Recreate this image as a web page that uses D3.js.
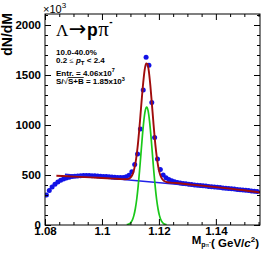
<!DOCTYPE html>
<meta charset="utf-8">
<script src="https://cdn.jsdelivr.net/npm/d3@7"></script>
<style>
  body { margin: 0; background: #fff; }
  svg { display: block; font-family: "Liberation Sans", Arial, sans-serif; }
</style>
<body>
<svg width="274" height="264"></svg>
</body>
<script>

    // histogram: bins of 1 MeV starting at 1.080 GeV/c2, counts in units of 10^3
    var binLow = 1.080, binWidth = 0.001;
    var counts = [300, 345, 380, 408, 430, 447, 460, 470, 478, 484,
                  488, 491, 493, 494, 494, 494, 493, 492, 490, 488,
                  486, 484, 482, 480, 478, 476, 475, 476, 482, 497,
                  533, 605, 710, 960, 1350, 1677, 1597, 1225, 875, 660,
                  555, 500, 472, 455, 442, 432, 425, 420, 416, 412,
                  407, 404, 401, 398, 395, 392, 389, 386, 383, 380,
                  377, 374, 371, 368, 365, 362, 359, 356, 353, 350,
                  347, 344, 341, 338, 335];

    // total fit (red)
    var fitMass = [1.084, 1.088, 1.092, 1.096, 1.100, 1.104, 1.107, 1.108, 1.109, 1.1095,
                   1.110, 1.1105, 1.111, 1.1115, 1.112, 1.1125, 1.113, 1.1135, 1.114, 1.1145,
                   1.115, 1.1155, 1.116, 1.1165, 1.117, 1.1175, 1.118, 1.1185, 1.119, 1.1195,
                   1.120, 1.1205, 1.121, 1.1215, 1.122, 1.1225, 1.123, 1.124, 1.126, 1.130,
                   1.135, 1.140, 1.145, 1.150, 1.1555];
    var fitTotal = [492, 487, 481, 476, 470, 464, 459, 458, 459, 463,
                    474, 492, 526, 581, 662, 775, 922, 1091, 1266, 1427,
                    1552, 1616, 1608, 1530, 1393, 1224, 1048, 878, 738, 629,
                    549, 498, 466, 448, 437, 431, 428, 424, 420, 408,
                    394, 379, 364, 347, 325];

    // signal peak (green)
    var sigMass = [1.1087, 1.1092, 1.1097, 1.1102, 1.1107, 1.1112, 1.1117, 1.1122, 1.1127, 1.1132,
                   1.1137, 1.1142, 1.1147, 1.1152, 1.1157, 1.1162, 1.1167, 1.1172, 1.1177, 1.1182,
                   1.1187, 1.1192, 1.1197, 1.1202, 1.1207, 1.1212, 1.1217, 1.1222, 1.1227];
    var sigVals = [3, 6, 13, 27, 52, 94, 160, 255, 383, 540,
                   716, 891, 1041, 1144, 1180, 1144, 1041, 891, 716, 540,
                   383, 255, 160, 94, 52, 27, 13, 6, 3];

    // residual background (blue)
    var bgMass = [1.087, 1.1555];
    var bgVals = [508, 333];

    var yMajor = [0, 500, 1000, 1500, 2000];
    var xMajor = [1.08, 1.10, 1.12, 1.14];

    var svg = d3.select('svg');
    var padL = 45, padR = 260, padT = 14, padB = 225;

    var x = d3.scaleLinear().domain([1.080, 1.1555]).range([padL, padR]);
    var y = d3.scaleLinear().domain([0, 2110]).range([padB, padT]);

    svg.append('clipPath').attr('id', 'frame')
        .append('rect').attr('x', padL).attr('y', padT)
        .attr('width', padR - padL).attr('height', padB - padT);

    var plot = svg.append('g').attr('clip-path', 'url(#frame)');

    //数据点
    plot.selectAll('circle')
        .data(counts)
        .enter()
        .append('circle')
        .attr('cx', function (d, i) { return x(binLow + (i + 0.5) * binWidth); })
        .attr('cy', function (d) { return y(d); })
        .attr('r', 2.5)
        .style('fill', '#1212e6');

    var line = d3.line()
        .x(function (d) { return x(d[0]); })
        .y(function (d) { return y(d[1]); })
        .curve(d3.curveMonotoneX);

    function pairs(a, b) { return a.map(function (v, i) { return [v, b[i]]; }); }

    plot.append('path').attr('d', line(pairs(bgMass, bgVals)))
        .attr('fill', 'none').attr('stroke', '#2020e8').attr('stroke-width', 1.4);
    plot.append('path').attr('d', line(pairs(sigMass, sigVals)))
        .attr('fill', 'none').attr('stroke', '#19c819').attr('stroke-width', 1.7);
    plot.append('path').attr('d', line(pairs(fitMass, fitTotal)))
        .attr('fill', 'none').attr('stroke', '#a00c0c').attr('stroke-width', 1.9);

    svg.append('rect').attr('x', padL).attr('y', padT)
        .attr('width', padR - padL).attr('height', padB - padT)
        .attr('fill', 'none').attr('stroke', '#000').attr('stroke-width', 1);

    //标题
    svg.append('text')
        .attr('transform', 'translate(11.5,13) rotate(-90)')
        .attr('text-anchor', 'end')
        .style('font-size', '14px').style('font-weight', 'bold')
        .text('dN/dM');

    var expo = svg.append('text').attr('x', 43).attr('y', 12.5).style('font-size', '11px');
    expo.append('tspan').text('\u00d710');
    expo.append('tspan').attr('dy', -5).style('font-size', '8px').text('3');

    var xt = svg.append('text').attr('x', 259).attr('y', 244)
        .attr('text-anchor', 'end').style('font-size', '11.5px').style('font-weight', 'bold');
    xt.append('tspan').text('M');
    xt.append('tspan').attr('dy', 3).style('font-size', '7px').text('p');
    xt.append('tspan').style('font-size', '7px').style('font-family', '"Liberation Serif", serif').style('font-weight', 'normal').text('\u03c0');
    xt.append('tspan').attr('dy', -3).style('font-size', '6px').text('-');
    xt.append('tspan').attr('dy', 3).text('( GeV/');
    xt.append('tspan').style('font-style', 'italic').text('c');
    xt.append('tspan').attr('dy', -5).style('font-size', '8px').text('2');
    xt.append('tspan').attr('dy', 5).text(')');

    //文字
    var serif = '"Liberation Serif", "DejaVu Serif", serif';
    var t1 = svg.append('text').attr('x', 56).attr('y', 35.5).style('font-size', '17px');
    t1.append('tspan').style('font-family', serif).text('\u039b');
    t1.append('tspan').attr('dx', 0.5).style('font-family', '"DejaVu Sans", sans-serif').style('font-size', '21px').text('\u2192');
    t1.append('tspan').attr('dx', 0.5).style('font-weight', 'bold').style('font-size', '17.5px').text('p');
    t1.append('tspan').attr('dx', 0.5).style('font-family', serif).style('font-size', '21px').text('\u03c0');
    t1.append('tspan').attr('dy', -11).attr('dx', 0.5).style('font-size', '10px').style('font-weight', 'bold').text('-');

    var small = svg.append('g').style('font-size', '8px').style('font-weight', 'bold');
    small.append('text').attr('x', 56).attr('y', 55).text('10.0-40.0%');

    var t3 = small.append('text').attr('x', 56).attr('y', 62.5);
    t3.append('tspan').text('0.2 ');
    t3.append('tspan').style('font-family', serif).style('font-weight', 'normal').text('\u2264');
    t3.append('tspan').text(' ');
    t3.append('tspan').style('font-style', 'italic').text('p');
    t3.append('tspan').attr('dy', 2).style('font-size', '6px').text('T');
    t3.append('tspan').attr('dy', -2).text(' < 2.4');

    var t4 = small.append('text').attr('x', 56).attr('y', 75.5);
    t4.append('tspan').text('Entr. = 4.06x10');
    t4.append('tspan').attr('dy', -3.5).style('font-size', '5.5px').text('7');

    var t5 = small.append('text').attr('x', 56).attr('y', 84);
    t5.append('tspan').text('S/');
    t5.append('tspan').style('font-weight', 'normal').text('\u221a');
    t5.append('tspan').style('text-decoration', 'overline').text('S+B');
    t5.append('tspan').text(' = 1.85x10');
    t5.append('tspan').attr('dy', -3.5).style('font-size', '5.5px').text('3');

    //坐标轴 (最后画): 主刻度 6px, 次刻度 3px, 朝内
    var yTicks = d3.range(0, 2101, 100);
    var xTicks = d3.range(1.080, 1.1556, 0.005);

    function isMajorY(d) { return yMajor.indexOf(d) >= 0; }
    function isMajorX(d) { return xMajor.some(function (m) { return Math.abs(m - d) < 1e-6; }); }

    function styleAxis(g, isMajor, dir) {
        g.select('.domain').remove();
        g.selectAll('.tick line')
            .attr('stroke', '#000').attr('stroke-width', 1)
            .each(function (d) {
                var len = isMajor(d) ? 6 : 3;
                if (dir == 'x') d3.select(this).attr('x2', len);
                else if (dir == '-x') d3.select(this).attr('x2', -len);
                else if (dir == 'y') d3.select(this).attr('y2', len);
                else d3.select(this).attr('y2', -len);
            });
        g.selectAll('.tick text')
            .attr('fill', '#000')
            .style('font-size', '11.5px').style('font-weight', 'bold');
    }

    var yLabel = function (d) { return isMajorY(d) ? String(d) : ''; };
    var xLabel = function (d) { return isMajorX(d) ? String(+d.toFixed(2)) : ''; };

    svg.append('g').attr('class', 'y-right').attr('transform', 'translate(' + padR + ',0)')
        .call(d3.axisRight(y).tickValues(yTicks).tickSizeInner(0).tickSizeOuter(0).tickFormat(''))
        .call(styleAxis, isMajorY, '-x');
    svg.append('g').attr('class', 'x-top').attr('transform', 'translate(0,' + padT + ')')
        .call(d3.axisTop(x).tickValues(xTicks).tickSizeInner(0).tickSizeOuter(0).tickFormat(''))
        .call(styleAxis, isMajorX, 'y');
    svg.append('g').attr('class', 'x-bottom').attr('transform', 'translate(0,' + padB + ')')
        .call(d3.axisBottom(x).tickValues(xTicks).tickSizeInner(0).tickSizeOuter(0)
            .tickPadding(2).tickFormat(xLabel))
        .call(styleAxis, isMajorX, '-y');
    svg.append('g').attr('class', 'y-left').attr('transform', 'translate(' + padL + ',0)')
        .call(d3.axisLeft(y).tickValues(yTicks).tickSizeInner(0).tickSizeOuter(0)
            .tickPadding(4).tickFormat(yLabel))
        .call(styleAxis, isMajorY, 'x');

</script>
